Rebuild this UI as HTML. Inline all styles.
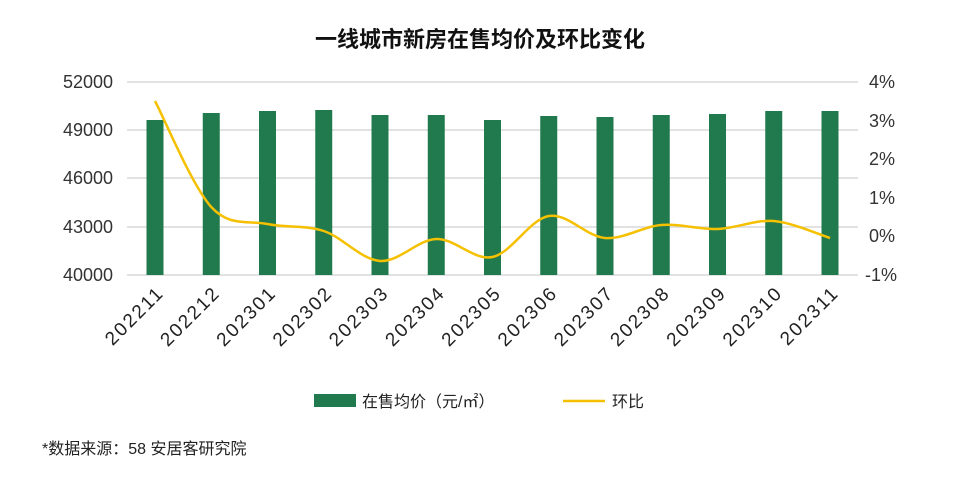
<!DOCTYPE html>
<html><head><meta charset="utf-8">
<style>
html,body{margin:0;padding:0;background:#fff;width:960px;height:486px;overflow:hidden;}
svg text{font-family:"Liberation Sans","Noto Sans CJK SC",sans-serif;}
</style></head>
<body>
<svg id="c" width="960" height="486" xmlns="http://www.w3.org/2000/svg">
<text x="480" y="47" text-anchor="middle" font-size="22" font-weight="bold" fill="#111">一线城市新房在售均价及环比变化</text>
<g stroke="#d9d9d9" stroke-width="1.5">
<line x1="127" x2="858" y1="82" y2="82"/><line x1="127" x2="858" y1="130" y2="130"/>
<line x1="127" x2="858" y1="178" y2="178"/><line x1="127" x2="858" y1="227" y2="227"/>
<line x1="127" x2="858" y1="275" y2="275"/>
</g>
<g font-size="18" fill="#333" text-anchor="end">
<text x="113" y="88">52000</text><text x="113" y="136">49000</text><text x="113" y="184">46000</text>
<text x="113" y="233">43000</text><text x="113" y="281">40000</text>
</g>
<g font-size="18" fill="#333">
<text x="869" y="88">4%</text><text x="869" y="127">3%</text><text x="869" y="165">2%</text>
<text x="869" y="204">1%</text><text x="869" y="242">0%</text><text x="865" y="281">-1%</text>
</g>
<g id="bars" fill="#217a4d"></g>
<path id="ln" fill="none" stroke="#f5c000" stroke-width="2.5"/>
<g id="xl" font-size="19" fill="#222" letter-spacing="2"></g>
<rect x="314" y="394" width="42" height="13" fill="#217a4d"/>
<text x="362" y="407" font-size="16" fill="#222">在售均价（元/㎡）</text>
<line x1="563" x2="605" y1="401" y2="401" stroke="#f5c000" stroke-width="2.5"/>
<text x="612" y="407" font-size="16" fill="#222">环比</text>
<text x="42" y="454" font-size="16" fill="#222">*数据来源：58 安居客研究院</text>
</svg>
<script>
var tops=[120,113,111,110,115,115,120,116,117,115,114,111,111];
var ly=[101,207,224,231,261,239,257,216,238,225,229,221,238];
var labs=["202211","202212","202301","202302","202303","202304","202305","202306","202307","202308","202309","202310","202311"];
var NS="http://www.w3.org/2000/svg",b=document.getElementById("bars"),xl=document.getElementById("xl");
var pts=[];
for(var i=0;i<13;i++){
 var cx=155+i*56.25;
 var r=document.createElementNS(NS,"rect");
 r.setAttribute("x",cx-8.5);r.setAttribute("y",tops[i]);r.setAttribute("width",17);r.setAttribute("height",275-tops[i]);
 b.appendChild(r);
 var t=document.createElementNS(NS,"text");
 t.setAttribute("text-anchor","end");
 t.setAttribute("transform","translate("+(cx+10)+",294) rotate(-45)");
 t.textContent=labs[i];xl.appendChild(t);
 pts.push([cx,ly[i]]);
}
var d="M"+pts[0][0]+","+pts[0][1];
for(var i=0;i<12;i++){
 var p0=pts[Math.max(i-1,0)],p1=pts[i],p2=pts[i+1],p3=pts[Math.min(i+2,12)];
 var c1=[p1[0]+(p2[0]-p0[0])/6,p1[1]+(p2[1]-p0[1])/6],c2=[p2[0]-(p3[0]-p1[0])/6,p2[1]-(p3[1]-p1[1])/6];
 d+=" C"+c1+" "+c2+" "+p2;
}
document.getElementById("ln").setAttribute("d",d);
</script>
</body></html>
